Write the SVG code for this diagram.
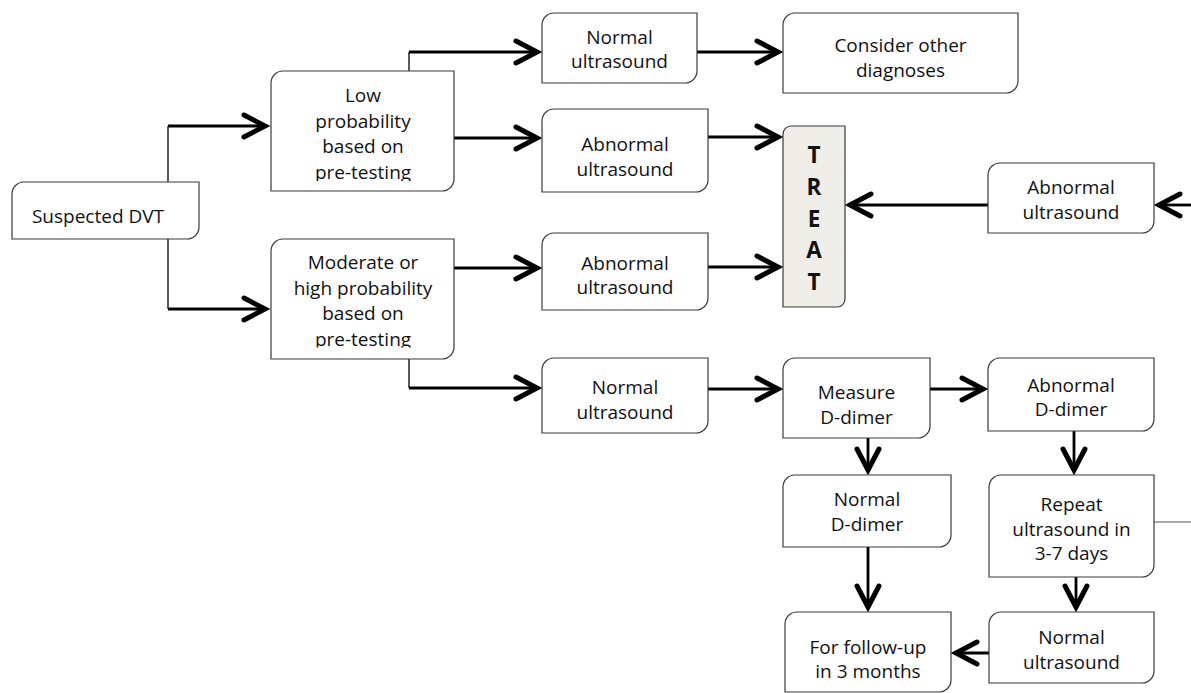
<svg xmlns="http://www.w3.org/2000/svg" width="1191" height="693" viewBox="0 0 1191 693">
<style>
.box{fill:#ffffff;stroke:#3a3a3a;stroke-width:1.2}
.treat{fill:#efede8;stroke:#3a3a3a;stroke-width:1.2}
.t{font-family:"Open Sans","Noto Sans","Liberation Sans",sans-serif;font-size:19px;fill:#111;text-anchor:middle}
.tb{font-family:"Open Sans","Noto Sans","Liberation Sans",sans-serif;font-size:22.5px;font-weight:bold;fill:#111;text-anchor:middle}
.c{fill:none;stroke:#000;stroke-width:2.8}
.thin{fill:none;stroke:#000;stroke-width:1.3}
.hair{fill:none;stroke:#555;stroke-width:1}
</style>
<defs>
<marker id="arr" markerUnits="userSpaceOnUse" viewBox="-28 -16 34 32" refX="0" refY="0" markerWidth="34" markerHeight="32" orient="auto">
<path d="M-21,-11 L0,0 L-21,11" fill="none" stroke="#000" stroke-width="5" stroke-linejoin="miter" stroke-linecap="round"/>
</marker>
<clipPath id="clipLow"><rect x="271" y="71" width="183" height="110"/></clipPath>
<clipPath id="clipMod"><rect x="271" y="239" width="183" height="108.5"/></clipPath>
</defs>

<g id="connectors">
<path class="thin" d="M168,182 V126"/>
<path class="c" d="M168,126 H265" marker-end="url(#arr)"/>
<path class="thin" d="M168,239 V309"/>
<path class="c" d="M168,309 H265" marker-end="url(#arr)"/>
<path class="thin" d="M409,75 V52"/>
<path class="c" d="M409,52 H537" marker-end="url(#arr)"/>
<path class="c" d="M454,138 H537" marker-end="url(#arr)"/>
<path class="c" d="M697,52 H778" marker-end="url(#arr)"/>
<path class="c" d="M708,137 H778" marker-end="url(#arr)"/>
<path class="c" d="M454,268 H537" marker-end="url(#arr)"/>
<path class="c" d="M708,267 H778" marker-end="url(#arr)"/>
<path class="c" d="M988,205 H850" marker-end="url(#arr)"/>
<path class="c" d="M1191,205 H1159" marker-end="url(#arr)"/>
<path class="thin" d="M409,359 V388"/>
<path class="c" d="M409,388 H537" marker-end="url(#arr)"/>
<path class="c" d="M708,389 H778" marker-end="url(#arr)"/>
<path class="c" d="M930,389 H983" marker-end="url(#arr)"/>
<path class="c" d="M868,438 V470" marker-end="url(#arr)"/>
<path class="c" d="M868,547 V607" marker-end="url(#arr)"/>
<path class="c" d="M1074,431 V470" marker-end="url(#arr)"/>
<path class="c" d="M1076,577 V607" marker-end="url(#arr)"/>
<path class="c" d="M989,653 H956" marker-end="url(#arr)"/>
<path class="hair" d="M1154,522 H1191"/>
</g>

<g id="suspected-dvt">
<path class="box" d="M24,182 H199 V227 A12,12 0 0 1 187,239 H12 V194 A12,12 0 0 1 24,182 Z"/>
<text class="t" x="98" y="223">Suspected DVT</text>
</g>

<g id="low-probability">
<path class="box" d="M283,71 H454 V179 A12,12 0 0 1 442,191 H271 V83 A12,12 0 0 1 283,71 Z"/>
<g clip-path="url(#clipLow)">
<text class="t" x="363" y="102">Low</text>
<text class="t" x="363" y="127.5">probability</text>
<text class="t" x="363" y="153">based on</text>
<text class="t" x="363" y="179">pre-testing</text>
</g>
</g>

<g id="moderate-high-probability">
<path class="box" d="M283,239 H454 V347 A12,12 0 0 1 442,359 H271 V251 A12,12 0 0 1 283,239 Z"/>
<g clip-path="url(#clipMod)">
<text class="t" x="363" y="269">Moderate or</text>
<text class="t" x="363" y="294.5">high probability</text>
<text class="t" x="363" y="320">based on</text>
<text class="t" x="363" y="345.5">pre-testing</text>
</g>
</g>

<g id="normal-ultrasound-1">
<path class="box" d="M554,13 H697 V71 A12,12 0 0 1 685,83 H542 V25 A12,12 0 0 1 554,13 Z"/>
<text class="t" x="619.5" y="43.5">Normal</text>
<text class="t" x="619.5" y="68">ultrasound</text>
</g>

<g id="consider-other-diagnoses">
<path class="box" d="M795,13 H1018 V81 A12,12 0 0 1 1006,93 H783 V25 A12,12 0 0 1 795,13 Z"/>
<text class="t" x="900.5" y="52">Consider other</text>
<text class="t" x="900.5" y="77">diagnoses</text>
</g>

<g id="abnormal-ultrasound-1">
<path class="box" d="M554,109 H708 V180 A12,12 0 0 1 696,192 H542 V121 A12,12 0 0 1 554,109 Z"/>
<text class="t" x="625" y="151">Abnormal</text>
<text class="t" x="625" y="176">ultrasound</text>
</g>

<g id="abnormal-ultrasound-2">
<path class="box" d="M554,233 H708 V298 A12,12 0 0 1 696,310 H542 V245 A12,12 0 0 1 554,233 Z"/>
<text class="t" x="625" y="270">Abnormal</text>
<text class="t" x="625" y="294">ultrasound</text>
</g>

<g id="treat">
<path class="treat" d="M791,126 H845 V299 A8,8 0 0 1 837,307 H783 V134 A8,8 0 0 1 791,126 Z"/>
<text class="tb" x="814" y="163">T</text>
<text class="tb" x="814" y="195">R</text>
<text class="tb" x="814" y="227">E</text>
<text class="tb" x="814" y="258">A</text>
<text class="tb" x="814" y="290">T</text>
</g>

<g id="abnormal-ultrasound-3">
<path class="box" d="M1000,163 H1154 V221 A12,12 0 0 1 1142,233 H988 V175 A12,12 0 0 1 1000,163 Z"/>
<text class="t" x="1071" y="194">Abnormal</text>
<text class="t" x="1071" y="219">ultrasound</text>
</g>

<g id="normal-ultrasound-2">
<path class="box" d="M554,358 H708 V421 A12,12 0 0 1 696,433 H542 V370 A12,12 0 0 1 554,358 Z"/>
<text class="t" x="625" y="393.5">Normal</text>
<text class="t" x="625" y="418.5">ultrasound</text>
</g>

<g id="measure-d-dimer">
<path class="box" d="M795,358 H930 V426 A12,12 0 0 1 918,438 H783 V370 A12,12 0 0 1 795,358 Z"/>
<text class="t" x="856.5" y="398.5">Measure</text>
<text class="t" x="856.5" y="423.5">D-dimer</text>
</g>

<g id="abnormal-d-dimer">
<path class="box" d="M1000,358 H1154 V419 A12,12 0 0 1 1142,431 H988 V370 A12,12 0 0 1 1000,358 Z"/>
<text class="t" x="1071" y="392">Abnormal</text>
<text class="t" x="1071" y="416">D-dimer</text>
</g>

<g id="normal-d-dimer">
<path class="box" d="M795,475 H951 V535 A12,12 0 0 1 939,547 H783 V487 A12,12 0 0 1 795,475 Z"/>
<text class="t" x="867" y="506">Normal</text>
<text class="t" x="867" y="531">D-dimer</text>
</g>

<g id="repeat-ultrasound">
<path class="box" d="M1001,475 H1154 V565 A12,12 0 0 1 1142,577 H989 V487 A12,12 0 0 1 1001,475 Z"/>
<text class="t" x="1071.5" y="511">Repeat</text>
<text class="t" x="1071.5" y="535.5">ultrasound in</text>
<text class="t" x="1071.5" y="560">3-7 days</text>
</g>

<g id="follow-up">
<path class="box" d="M797,612 H951 V680 A12,12 0 0 1 939,692 H785 V624 A12,12 0 0 1 797,612 Z"/>
<text class="t" x="868" y="653.5">For follow-up</text>
<text class="t" x="868" y="677.5">in 3 months</text>
</g>

<g id="normal-ultrasound-3">
<path class="box" d="M1001,612 H1154 V671 A12,12 0 0 1 1142,683 H989 V624 A12,12 0 0 1 1001,612 Z"/>
<text class="t" x="1071.5" y="643.5">Normal</text>
<text class="t" x="1071.5" y="668.5">ultrasound</text>
</g>
</svg>
